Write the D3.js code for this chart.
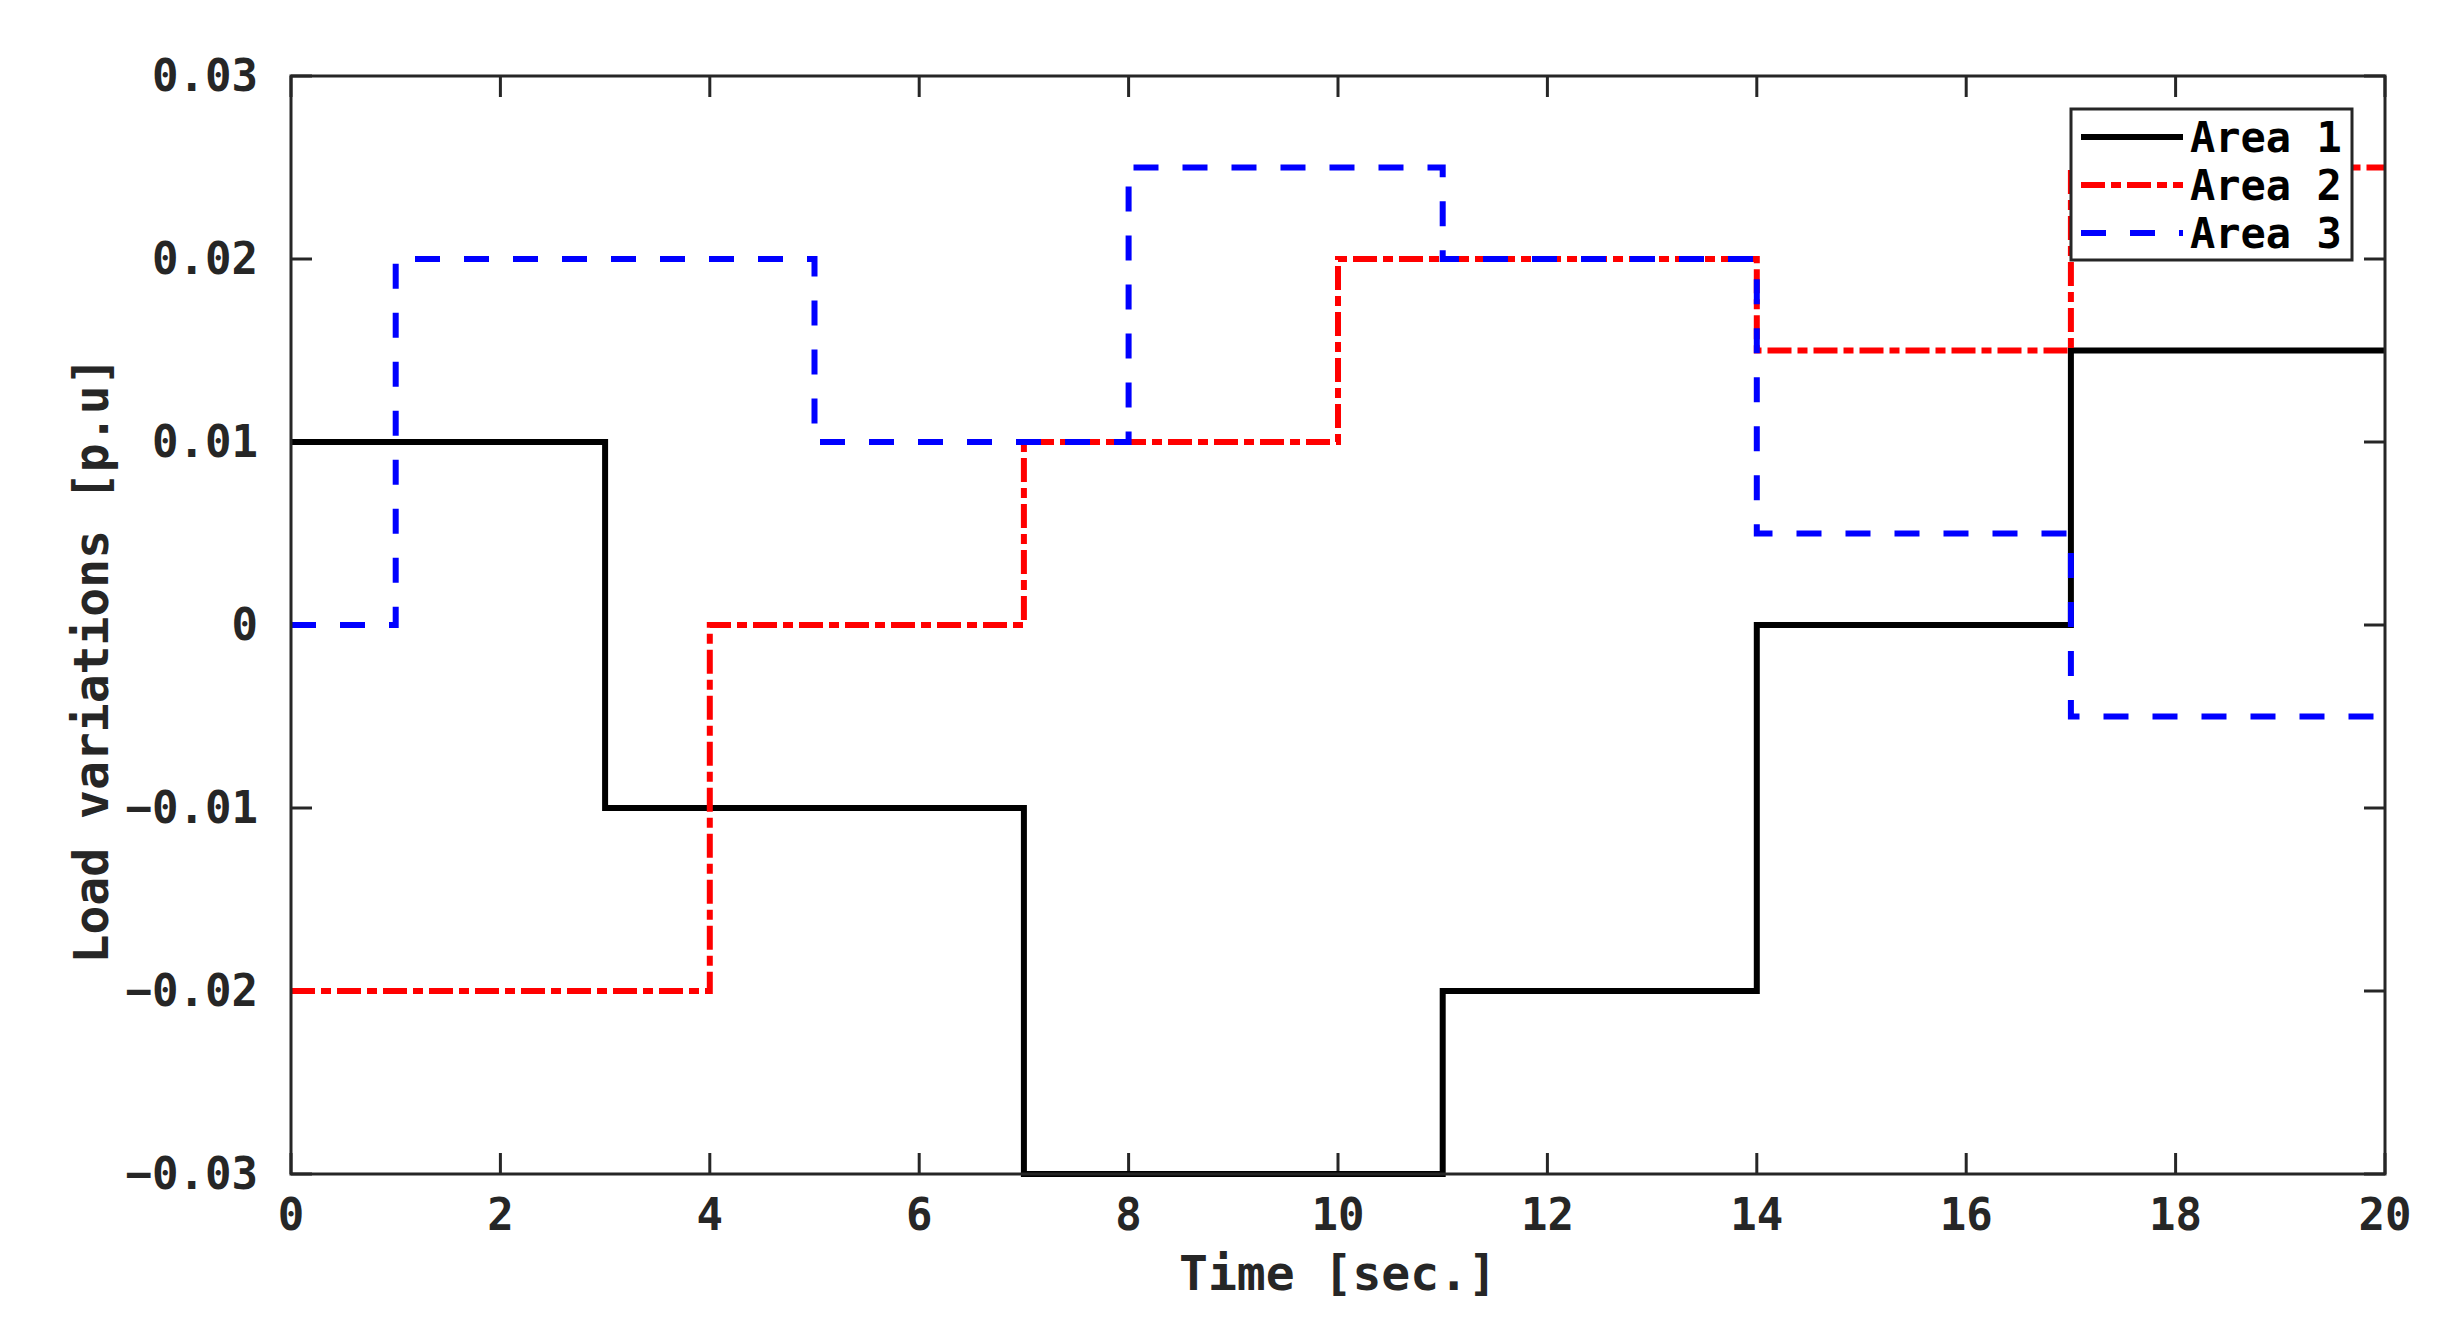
<!DOCTYPE html>
<html><head><meta charset="utf-8">
<script src="https://cdn.jsdelivr.net/npm/d3@7"></script>
<style>body{margin:0;background:#fff}text{font-family:"DejaVu Sans Mono",monospace;font-weight:bold;fill:#262626}</style>
</head><body><svg id="c" width="2463" height="1323"></svg>
<script>
const times=[0,1,3,4,5,7,8,10,11,14,17,20];
const area1=[0.01,0.01,-0.01,-0.01,-0.01,-0.03,-0.03,-0.03,-0.02,0,0.015,0.015];
const area2=[-0.02,-0.02,-0.02,0,0,0.01,0.01,0.02,0.02,0.015,0.025,0.025];
const area3=[0,0.02,0.02,0.02,0.01,0.01,0.025,0.025,0.02,0.005,-0.005,-0.005];
const xTicks=[0,2,4,6,8,10,12,14,16,18,20];
const yTicks=[-0.03,-0.02,-0.01,0,0.01,0.02,0.03];
const yLabels=["\u22120.03","\u22120.02","\u22120.01","0","0.01","0.02","0.03"];
const names=["Area 1","Area 2","Area 3"];
const colors=["#000","#ff0000","#0000ff"];
const dashes=[null,"24,6,10,6","25,24"];

const L=291,R=2385,T=76,B=1174;
const svg=d3.select("#c");
const x=d3.scaleLinear().domain([0,20]).range([L,R]);
const y=d3.scaleLinear().domain([-0.03,0.03]).range([B,T]);
const tl=21;
const g=svg.append("g");
xTicks.forEach(t=>{
 g.append("line").attr("x1",x(t)).attr("x2",x(t)).attr("y1",B).attr("y2",B-tl).attr("stroke","#262626").attr("stroke-width",3);
 g.append("line").attr("x1",x(t)).attr("x2",x(t)).attr("y1",T).attr("y2",T+tl).attr("stroke","#262626").attr("stroke-width",3);
 g.append("text").attr("x",x(t)).attr("y",B+56).attr("text-anchor","middle").attr("font-size",44).text(t);
});
yTicks.forEach((t,i)=>{
 g.append("line").attr("y1",y(t)).attr("y2",y(t)).attr("x1",L).attr("x2",L+tl).attr("stroke","#262626").attr("stroke-width",3);
 g.append("line").attr("y1",y(t)).attr("y2",y(t)).attr("x1",R).attr("x2",R-tl).attr("stroke","#262626").attr("stroke-width",3);
 g.append("text").attr("x",L-33).attr("y",y(t)+15).attr("text-anchor","end").attr("font-size",44).text(yLabels[i]);
});
const line=d3.line().x((d,i)=>x(times[i])).y(d=>y(d)).curve(d3.curveStepAfter);
[area1,area2,area3].forEach((s,k)=>{
 svg.append("path").attr("d",line(s)).attr("fill","none").attr("stroke",colors[k]).attr("stroke-width",6).attr("stroke-dasharray",dashes[k]);
});
svg.append("rect").attr("x",L).attr("y",T).attr("width",R-L).attr("height",B-T).attr("fill","none").attr("stroke","#262626").attr("stroke-width",3);
const lg=svg.append("g");
lg.append("rect").attr("x",2071).attr("y",109).attr("width",281).attr("height",151).attr("fill","#fff").attr("stroke","#262626").attr("stroke-width",3);
names.forEach((n,k)=>{
 const yy=137+k*48;
 lg.append("line").attr("x1",2081).attr("x2",2183).attr("y1",yy).attr("y2",yy).attr("stroke",colors[k]).attr("stroke-width",6).attr("stroke-dasharray",dashes[k]);
 lg.append("text").attr("x",2190).attr("y",yy+15).attr("font-size",42).style("fill","#000").text(n);
});
svg.append("text").attr("x",(L+R)/2).attr("y",1290).attr("text-anchor","middle").attr("font-size",48).text("Time [sec.]");
svg.append("text").attr("transform",`translate(108,${(T+B)/2+35}) rotate(-90)`).attr("text-anchor","middle").attr("font-size",48).text("Load variations [p.u]");
</script></body></html>
